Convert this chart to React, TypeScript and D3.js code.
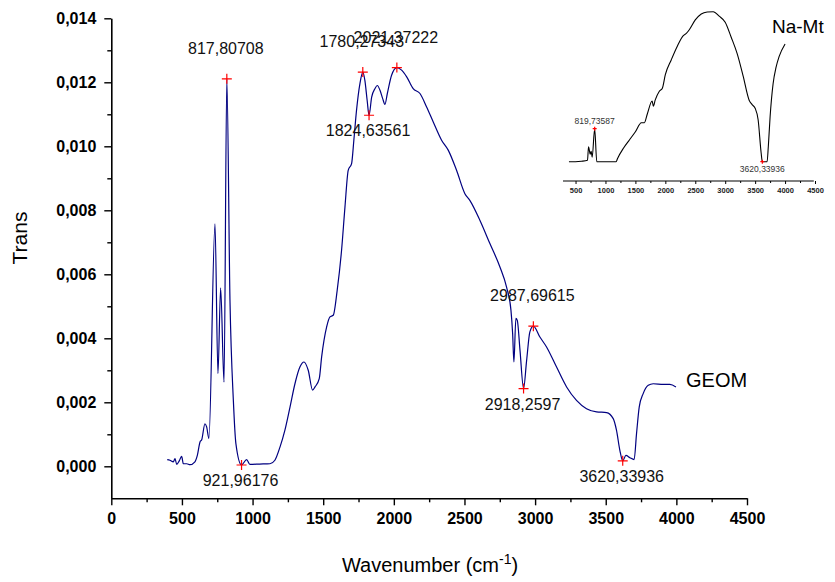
import React, { useEffect, useRef } from "react";
import * as d3 from "d3";

// GEOM spectrum (main plot)
const geomWavenumber = [
  396, 415, 439, 451, 463, 481, 498, 510, 534, 557, 592, 609, 628, 640, 663, 675, 691,
  734, 755, 774, 798, 817.8, 840, 864, 882, 921.96, 958, 981, 1050, 1123, 1158, 1194,
  1229, 1265, 1300, 1335, 1364, 1394, 1425, 1442, 1472, 1489, 1524, 1548, 1571, 1599,
  1630, 1654, 1677, 1701, 1717, 1736, 1760, 1780.3, 1795, 1811, 1824.6, 1843, 1866,
  1883, 1902, 1921, 1937, 1954, 1984, 2021.4, 2055, 2091, 2137, 2185, 2232, 2279,
  2338, 2385, 2444, 2503, 2538, 2609, 2680, 2751, 2798, 2829, 2841, 2850, 2864, 2874,
  2893, 2918.3, 2940, 2963, 2987.7, 3034, 3081, 3152, 3223, 3293, 3364, 3435, 3506,
  3553, 3576, 3600, 3620.3, 3643, 3671, 3701, 3718, 3737, 3765, 3801, 3836, 3907,
  3954, 3997,
];
const geomTrans = [
  0.00021, 0.00019, 0.00014, 0.00024, 0.00006, 0.00017, 0.00031, 0.00008, 0.00008,
  0.00005, 0.00014, 0.00034, 0.00076, 0.00083, 0.00133, 0.00123, 0.00087, 0.00758,
  0.0029, 0.00558, 0.00263, 0.01211, 0.0052, 0.00206, 0.00071, 0.00004, 0.00021,
  0.00006, 0.00007, 0.00008, 0.00019, 0.0006, 0.00113, 0.00185, 0.00258, 0.0031,
  0.00326, 0.003, 0.00238, 0.00248, 0.00274, 0.00342, 0.00435, 0.00467, 0.00472,
  0.0055, 0.00675, 0.0081, 0.00925, 0.00946, 0.01019, 0.01113, 0.01196, 0.01232,
  0.01206, 0.01144, 0.01097, 0.01154, 0.0118, 0.0119, 0.01175, 0.01149, 0.01131,
  0.01165, 0.01222, 0.01246, 0.01238, 0.01217, 0.0118, 0.01165, 0.01123, 0.01076,
  0.01019, 0.00988, 0.00925, 0.00852, 0.00831, 0.00769, 0.00696, 0.00623, 0.0056,
  0.00488, 0.00415, 0.00326, 0.00462, 0.00456, 0.00363, 0.00243, 0.00331, 0.0042,
  0.00438, 0.00404, 0.00373, 0.0031, 0.00248, 0.00206, 0.0018, 0.0017, 0.00168,
  0.00149, 0.00113, 0.0005, 0.00017, 0.00034, 0.00027, 0.00021, 0.00102, 0.00185,
  0.00227, 0.00253, 0.00258, 0.00256, 0.00256, 0.00248,
];

// picked peaks on the GEOM curve
const geomPeakWn = [817.8, 921.96, 1780.3, 1824.6, 2021.4, 2918.3, 2987.7, 3620.3];
const geomPeakVal = [0.01211, 0.00004, 0.01232, 0.01097, 0.01246, 0.00243, 0.00438, 0.00017];
const geomPeakLabels = [
  "817,80708", "921,96176", "1780,27343", "1824,63561",
  "2021,37222", "2918,2597", "2987,69615", "3620,33936",
];
const geomLabelAbove = [true, false, true, false, true, false, true, false];

// Na-Mt spectrum (inset, arbitrary units)
const naMtWavenumber = [
  390, 500, 600, 700, 717, 745, 761, 778, 819.7, 855, 950, 1100, 1178, 1200, 1300,
  1400, 1500, 1600, 1650, 1700, 1780, 1800, 1830, 1900, 1950, 2000, 2100, 2200, 2300,
  2350, 2400, 2500, 2600, 2700, 2800, 2900, 3000, 3100, 3200, 3300, 3400, 3450, 3500,
  3550, 3600, 3620.3, 3700, 3720, 3750, 3800, 3850, 3900, 4000,
];
const naMtTrans = [
  0, 0, 0.003, 0.01, 0.1, 0.05, 0.07, 0.03, 0.22, 0.0, 0.0, 0.0, 0.0, 0.02, 0.09,
  0.145, 0.2, 0.26, 0.26, 0.32, 0.405, 0.37, 0.41, 0.47, 0.49, 0.58, 0.68, 0.77, 0.84,
  0.855, 0.88, 0.945, 0.985, 0.998, 1.0, 0.97, 0.93, 0.83, 0.72, 0.57, 0.41, 0.38,
  0.356, 0.28, 0.06, 0.0, 0.0, 0.1, 0.3, 0.52, 0.63, 0.7, 0.785,
];
const naMtPeakWn = [819.7, 3620.3];
const naMtPeakVal = [0.22, 0.0];
const naMtPeakLabels = ["819,73587", "3620,33936"];

const xTicks = [0, 500, 1000, 1500, 2000, 2500, 3000, 3500, 4000, 4500];
const xMinorTicks = [250, 750, 1250, 1750, 2250, 2750, 3250, 3750, 4250];
const yTicks = [0, 0.002, 0.004, 0.006, 0.008, 0.01, 0.012, 0.014];
const yMinorTicks = [0.001, 0.003, 0.005, 0.007, 0.009, 0.011, 0.013];
const insetTicks = [500, 1000, 1500, 2000, 2500, 3000, 3500, 4000, 4500];
const insetMinorTicks = [750, 1250, 1750, 2250, 2750, 3250, 3750, 4250];

const FONT = "'Liberation Sans', Arial, sans-serif";

const App = () => {
  const svgRef = useRef(null);

  useEffect(() => {
    const svg = d3.select(svgRef.current);
    svg.selectAll("*").remove();

    const x = d3.scaleLinear().domain([0, 4500]).range([111.3, 747]);
    const y = d3.scaleLinear().domain([-0.001, 0.014]).range([498.3, 18.3]);

    // axes
    const xAxis = svg.append("g").attr("transform", `translate(0,${y(-0.001)})`);
    xAxis
      .call(
        d3.axisBottom(x).tickValues(xTicks).tickSize(7).tickPadding(7).tickSizeOuter(0)
          .tickFormat(d3.format("d"))
      );
    xAxis.append("g").call(
      d3.axisBottom(x).tickValues(xMinorTicks).tickSize(4).tickFormat(() => "")
    ).select(".domain").remove();

    const yAxis = svg.append("g").attr("transform", `translate(${x(0)},0)`);
    yAxis.call(
      d3.axisLeft(y).tickValues(yTicks).tickSize(7).tickPadding(8).tickSizeOuter(0)
        .tickFormat((d) => d3.format(".3f")(d).replace(".", ","))
    );
    yAxis.append("g").call(
      d3.axisLeft(y).tickValues(yMinorTicks).tickSize(4).tickFormat(() => "")
    ).select(".domain").remove();

    svg.selectAll(".domain").attr("stroke", "#000").attr("stroke-width", 1.6);
    svg.selectAll(".tick line").attr("stroke", "#000").attr("stroke-width", 1.4);
    svg.selectAll(".tick text")
      .attr("font-family", FONT)
      .attr("font-size", 16)
      .attr("font-weight", "bold")
      .attr("fill", "#000");

    // axis titles
    svg.append("text")
      .attr("transform", "translate(27,238) rotate(-90)")
      .attr("text-anchor", "middle")
      .attr("font-family", FONT)
      .attr("font-size", 21)
      .text("Trans");

    const xt = svg.append("text")
      .attr("x", 430)
      .attr("y", 572)
      .attr("text-anchor", "middle")
      .attr("font-family", FONT)
      .attr("font-size", 20);
    xt.append("tspan").text("Wavenumber (cm");
    xt.append("tspan").attr("font-size", 14).attr("dy", -8).text("-1");
    xt.append("tspan").attr("dy", 8).text(")");

    // GEOM curve
    const geomData = geomWavenumber.map((w, i) => [w, geomTrans[i]]);
    const line = d3.line()
      .x((d) => x(d[0]))
      .y((d) => y(d[1]))
      .curve(d3.curveMonotoneX);
    svg.append("path")
      .datum(geomData)
      .attr("d", line)
      .attr("fill", "none")
      .attr("stroke", "#000080")
      .attr("stroke-width", 1.2);

    // peak markers and labels
    geomPeakWn.forEach((w, i) => {
      const px = x(w);
      const py = y(geomPeakVal[i]);
      svg.append("path")
        .attr("d", `M${px - 5},${py}H${px + 5}M${px},${py - 5}V${py + 5}`)
        .attr("stroke", "#ff0000")
        .attr("stroke-width", 1.2);
      svg.append("text")
        .attr("x", px - 1)
        .attr("y", geomLabelAbove[i] ? py - 25 : py + 21)
        .attr("text-anchor", "middle")
        .attr("font-family", FONT)
        .attr("font-size", 16)
        .attr("fill", "#111")
        .text(geomPeakLabels[i]);
    });

    svg.append("text")
      .attr("x", 686)
      .attr("y", 387)
      .attr("font-family", FONT)
      .attr("font-size", 20)
      .text("GEOM");

    // inset
    const ix = d3.scaleLinear().domain([0, 4500]).range([545.6, 815]);
    const iy = d3.scaleLinear().domain([0, 1]).range([161.7, 11.7]);
    const inset = svg.append("g");

    const insetAxis = inset.append("g").attr("transform", "translate(0,181)");
    insetAxis.call(
      d3.axisBottom(ix).tickValues(insetTicks).tickSize(3).tickPadding(4).tickSizeOuter(0)
        .tickFormat(d3.format("d"))
    );
    insetAxis.append("g").call(
      d3.axisBottom(ix).tickValues(insetMinorTicks).tickSize(2).tickFormat(() => "")
    ).select(".domain").remove();
    insetAxis.select(".domain")
      .attr("d", `M${ix(290)},0H${ix(4480)}`)
      .attr("stroke", "#000")
      .attr("stroke-width", 1.2);
    insetAxis.selectAll(".tick line").attr("stroke", "#000").attr("stroke-width", 1);
    insetAxis.selectAll(".tick text")
      .attr("font-family", FONT)
      .attr("font-size", 7.5)
      .attr("font-weight", "bold")
      .attr("fill", "#222");

    const naMtData = naMtWavenumber.map((w, i) => [w, naMtTrans[i]]);
    const insetLine = d3.line()
      .x((d) => ix(d[0]))
      .y((d) => iy(d[1]))
      .curve(d3.curveMonotoneX);
    inset.append("path")
      .datum(naMtData)
      .attr("d", insetLine)
      .attr("fill", "none")
      .attr("stroke", "#000")
      .attr("stroke-width", 1.1);

    naMtPeakWn.forEach((w, i) => {
      const px = ix(w);
      const py = iy(naMtPeakVal[i]);
      inset.append("path")
        .attr("d", `M${px - 2},${py}H${px + 2}M${px},${py - 2}V${py + 2}`)
        .attr("stroke", "#ff0000")
        .attr("stroke-width", 1.2);
      inset.append("text")
        .attr("x", px)
        .attr("y", i === 0 ? py - 5 : py + 10)
        .attr("text-anchor", "middle")
        .attr("font-family", FONT)
        .attr("font-size", 8.5)
        .attr("fill", "#333")
        .text(naMtPeakLabels[i]);
    });

    inset.append("text")
      .attr("x", 772)
      .attr("y", 33)
      .attr("font-family", FONT)
      .attr("font-size", 19)
      .text("Na-Mt");
  }, []);

  return (
    <svg
      ref={svgRef}
      width={835}
      height={582}
      style={{ position: "absolute", left: 0, top: 0, background: "#fff" }}
    />
  );
};

export default App;
